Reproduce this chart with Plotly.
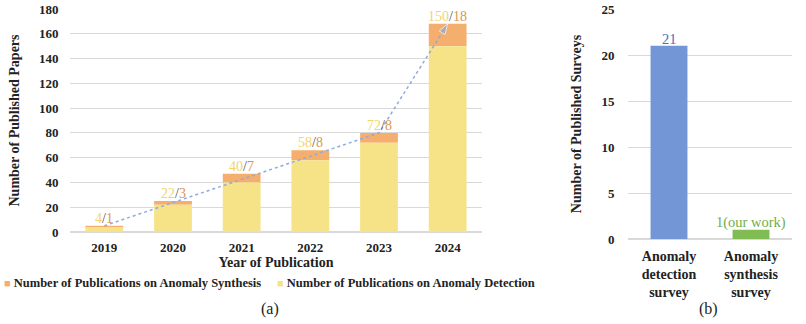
"""Publication trend bars (a) and survey count bars (b)."""

import plotly.graph_objects as go

years = [2019, 2020, 2021, 2022, 2023, 2024]
detection_papers = [4, 22, 40, 58, 72, 150]
synthesis_papers = [1, 3, 7, 8, 8, 18]
trend_years = [2019, 2023, 2024]
series_names = ["Number of Publications on Anomaly Synthesis",
                "Number of Publications on Anomaly Detection"]

survey_types = ["Anomaly<br>detection<br>survey", "Anomaly<br>synthesis<br>survey"]
survey_counts = [21, 1]
survey_labels = ["21", "1(our work)"]

SERIF = "Liberation Serif, Times New Roman, serif"
YELLOW = "#F6E388"
ORANGE = "#F4AE6E"
YELLOW_TXT = "#F2D46A"
ORANGE_TXT = "#D9964F"
BLUE = "#7396D6"
GREEN = "#80BB54"
GRID = "#D9D9D9"
DARK = "#222222"

W, H = 806, 324


def px(x):
    return x / W


def py(y):
    return 1 - y / H


totals = [d + s for d, s in zip(detection_papers, synthesis_papers)]
trend_vals = [totals[years.index(y)] for y in trend_years]

fig = go.Figure()

fig.add_trace(go.Bar(
    x=years, y=synthesis_papers, base=detection_papers, name=series_names[0],
    marker=dict(color=ORANGE, line=dict(width=0)),
))
fig.add_trace(go.Bar(
    x=years, y=detection_papers, name=series_names[1],
    marker=dict(color=YELLOW, line=dict(width=0)),
))
fig.add_trace(go.Scatter(
    x=trend_years, y=trend_vals, mode="lines+markers",
    line=dict(color="#8FAADC", dash="dot", width=1.5),
    marker=dict(symbol=["circle", "circle", "arrow"], size=[0, 0, 11],
                angleref="previous", color="#8FAADC"),
    hoverinfo="skip",
))

fig.add_trace(go.Bar(
    x=survey_types, y=survey_counts,
    marker=dict(color=[BLUE, GREEN], line=dict(width=0)),
    width=0.45, xaxis="x2", yaxis="y2",
))

annotations = []
for yr, d, s, t in zip(years, detection_papers, synthesis_papers, totals):
    annotations.append(dict(
        x=yr, y=t, xref="x", yref="y", yanchor="bottom", showarrow=False,
        text=(f"<span style='color:{YELLOW_TXT}'>{d}</span>"
              f"<span style='color:#555555'>/</span>"
              f"<span style='color:{ORANGE_TXT}'>{s}</span>"),
        font=dict(family=SERIF, size=14), yshift=-2,
    ))
for cat, v, lab, col in zip(survey_types, survey_counts, survey_labels, ["#4472C4", "#70AD47"]):
    annotations.append(dict(
        x=cat, y=v, xref="x2", yref="y2", yanchor="bottom", showarrow=False,
        text=lab, font=dict(family=SERIF, size=14.5, color=col), yshift=-3,
    ))
for lab, x in [("(a)", 270), ("(b)", 708)]:
    annotations.append(dict(x=px(x), y=py(309), xref="paper", yref="paper",
                            xanchor="center", yanchor="middle", text=lab, showarrow=False,
                            font=dict(family=SERIF, size=16, color=DARK)))

# legend row drawn as text so the swatches sit as close to the words as in the paper figure
for name, col, x in zip(series_names, [ORANGE, YELLOW], [2, 275]):
    annotations.append(dict(
        x=px(x), y=py(283), xref="paper", yref="paper", xanchor="left", yanchor="middle",
        showarrow=False,
        text=f"<span style='color:{col};font-size:11px'>■</span> {name}",
        font=dict(family=SERIF, size=12.5, color=DARK, weight="bold"),
    ))

tick_font = dict(family=SERIF, size=13, color=DARK, weight="bold")
title_font = dict(family=SERIF, size=14, color=DARK, weight="bold")

fig.update_layout(
    width=W, height=H,
    margin=dict(l=0, r=0, t=0, b=0),
    paper_bgcolor="white", plot_bgcolor="white",
    barmode="overlay", bargap=0.45,
    font=dict(family=SERIF, color=DARK),
    annotations=annotations,
    showlegend=False,
    xaxis=dict(domain=[px(70), px(482)], anchor="y", showgrid=False,
               range=[2018.5, 2024.5], tickvals=years, automargin=False,
               tickfont=tick_font, ticks="outside", ticklen=3, tickcolor="white",
               title=dict(text="Year of Publication", standoff=0, font=title_font)),
    yaxis=dict(domain=[py(232), py(9)], anchor="x", range=[0, 180], automargin=False,
               dtick=20, gridcolor=GRID, gridwidth=1, zeroline=True, zerolinecolor=GRID,
               tickfont=tick_font, ticks="outside", ticklen=8, tickcolor="white",
               title=dict(text="Number of Published Papers", standoff=16, font=title_font)),
    xaxis2=dict(domain=[px(628), px(792)], anchor="y2", showgrid=False, type="category",
                automargin=False,
                tickfont=dict(family=SERIF, size=14, color=DARK, weight="bold"),
                ticks="outside", ticklen=4, tickcolor="white"),
    yaxis2=dict(domain=[py(239), py(9)], anchor="x2", range=[0, 25], automargin=False,
                dtick=5, gridcolor=GRID, gridwidth=1, zeroline=True, zerolinecolor=GRID,
                tickfont=tick_font, ticks="outside", ticklen=10, tickcolor="white",
                title=dict(text="Number of Published Surveys", standoff=16, font=title_font)),
)

# drop the browser's default 8px body margin so the figure fills the window
fig.write_html("out.html", config={"displayModeBar": False},
               post_script="document.body.style.margin = '0';")
